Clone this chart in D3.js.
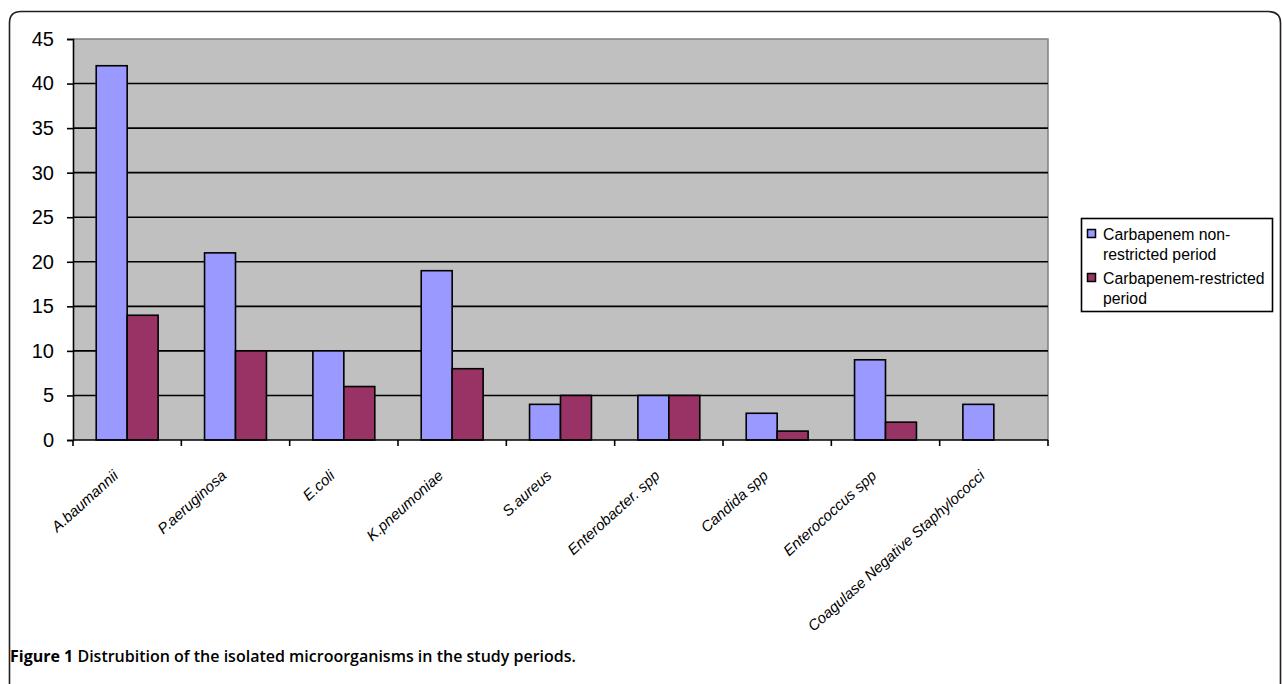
<!DOCTYPE html>
<html>
<head>
<meta charset="utf-8">
<script src="https://cdn.jsdelivr.net/npm/d3@7/dist/d3.min.js"></script>
<style>
  html, body { margin: 0; padding: 0; background: #fff; }
  svg { display: block; }
</style>
</head>
<body>
<svg id="chart" width="1282" height="684"></svg>
<script>
// Isolated microorganisms per study period
const categories = ["A.baumannii", "P.aeruginosa", "E.coli", "K.pneumoniae", "S.aureus",
  "Enterobacter. spp", "Candida spp", "Enterococcus spp", "Coagulase Negative Staphylococci"];
const nonRestricted = [42, 21, 10, 19, 4, 5, 3, 9, 4];
const restricted = [14, 10, 6, 8, 5, 5, 1, 2, 0];
const seriesNames = ["Carbapenem non-restricted period", "Carbapenem-restricted period"];
const legendLines = [["Carbapenem non-", "restricted period"], ["Carbapenem-restricted", "period"]];
const yTicks = [0, 5, 10, 15, 20, 25, 30, 35, 40, 45];
const caption = ["Figure 1", " Distrubition of the isolated microorganisms in the study periods."];

const colors = ["#9999FF", "#993366"];
const svg = d3.select("#chart");

// outer frame (open at the bottom)
svg.append("path")
  .attr("d", "M9.5,684 L9.5,23 Q9.5,11.5 21,11.5 L1268,11.5 Q1280.5,11.5 1280.5,23 L1280.5,684")
  .attr("fill", "none").attr("stroke", "#231f20").attr("stroke-width", 1.6);

const plot = { left: 73, right: 1048, top: 39, bottom: 440 };

const x = d3.scaleBand().domain(categories).range([plot.left, plot.right]).paddingInner(0).paddingOuter(0);
const inner = d3.scaleBand().domain([0, 1]).range([0, x.bandwidth()]).paddingInner(0).paddingOuter(0.75);
const y = d3.scaleLinear().domain([0, 45]).range([plot.bottom, plot.top]);

// plot background
svg.append("rect")
  .attr("x", plot.left).attr("y", plot.top)
  .attr("width", plot.right - plot.left).attr("height", plot.bottom - plot.top)
  .attr("fill", "#C0C0C0");
// top and right plot edges
svg.append("path")
  .attr("d", `M${plot.left},${plot.top} L${plot.right},${plot.top} L${plot.right},${plot.bottom}`)
  .attr("fill", "none").attr("stroke", "#808080").attr("stroke-width", 1.5);

// gridlines
svg.append("g").selectAll("line")
  .data(yTicks.filter(d => d > 0 && d < 45))
  .join("line")
  .attr("x1", plot.left).attr("x2", plot.right)
  .attr("y1", d => y(d)).attr("y2", d => y(d))
  .attr("stroke", "#000").attr("stroke-width", 1.6);

// bars
const series = [nonRestricted, restricted];
series.forEach((vals, si) => {
  svg.append("g").selectAll("rect")
    .data(vals.map((v, i) => ({ v, c: categories[i] })).filter(d => d.v > 0))
    .join("rect")
    .attr("x", d => x(d.c) + inner(si))
    .attr("y", d => y(d.v))
    .attr("width", inner.bandwidth())
    .attr("height", d => y(0) - y(d.v))
    .attr("fill", colors[si])
    .attr("stroke", "#000").attr("stroke-width", 1.6);
});

// y axis
const yAxis = d3.axisLeft(y).tickValues(yTicks).tickSize(6).tickPadding(13);
const gy = svg.append("g").attr("transform", `translate(${plot.left},0)`).call(yAxis);
gy.select(".domain").attr("stroke", "#000").attr("stroke-width", 1.6);
gy.selectAll(".tick line").attr("stroke", "#000").attr("stroke-width", 1.6);
gy.selectAll(".tick text")
  .attr("font-family", "Liberation Sans, Arial, sans-serif")
  .attr("font-size", 20).attr("fill", "#000");

// x axis with ticks at category boundaries
const gx = svg.append("g").attr("transform", `translate(0,${plot.bottom})`);
gx.append("line").attr("x1", plot.left).attr("x2", plot.right)
  .attr("stroke", "#000").attr("stroke-width", 1.6);
const bounds = categories.map(c => x(c)).concat([plot.right]);
gx.selectAll("line.tk").data(bounds).join("line").attr("class", "tk")
  .attr("x1", d => d).attr("x2", d => d).attr("y1", 0).attr("y2", 6)
  .attr("stroke", "#000").attr("stroke-width", 1.6);

// rotated category labels
svg.append("g").selectAll("text")
  .data(categories)
  .join("text")
  .attr("transform", d => `translate(${x(d) + x.bandwidth() / 2 - 8},${plot.bottom + 37}) rotate(-42)`)
  .attr("text-anchor", "end")
  .attr("font-family", "Liberation Sans, Arial, sans-serif")
  .attr("font-style", "italic")
  .attr("font-size", 15)
  .attr("fill", "#000")
  .text(d => d);

// legend
const lg = svg.append("g");
lg.append("rect").attr("x", 1081.5).attr("y", 218.5).attr("width", 191).attr("height", 93)
  .attr("fill", "#fff").attr("stroke", "#000").attr("stroke-width", 1.6);
const legendTop = [240, 284];
seriesNames.forEach((name, i) => {
  lg.append("rect").attr("x", 1087.5).attr("y", legendTop[i] - 10.5).attr("width", 8).attr("height", 8)
    .attr("fill", colors[i]).attr("stroke", "#000").attr("stroke-width", 1.5);
  const t = lg.append("text")
    .attr("font-family", "Liberation Sans, Arial, sans-serif")
    .attr("font-size", 15.8).attr("fill", "#000");
  legendLines[i].forEach((ln, j) => {
    t.append("tspan").attr("x", 1103).attr("y", legendTop[i] + j * 19.5).text(ln);
  });
});

// caption
const cap = svg.append("text").attr("x", 10).attr("y", 662)
  .attr("font-family", "Open Sans, Noto Sans, sans-serif")
  .attr("font-size", 16).attr("fill", "#000")
  .attr("font-weight", 700);
cap.append("tspan").text(caption[0]);
cap.append("tspan").attr("font-weight", 600).text(caption[1]);
</script>
</body>
</html>
